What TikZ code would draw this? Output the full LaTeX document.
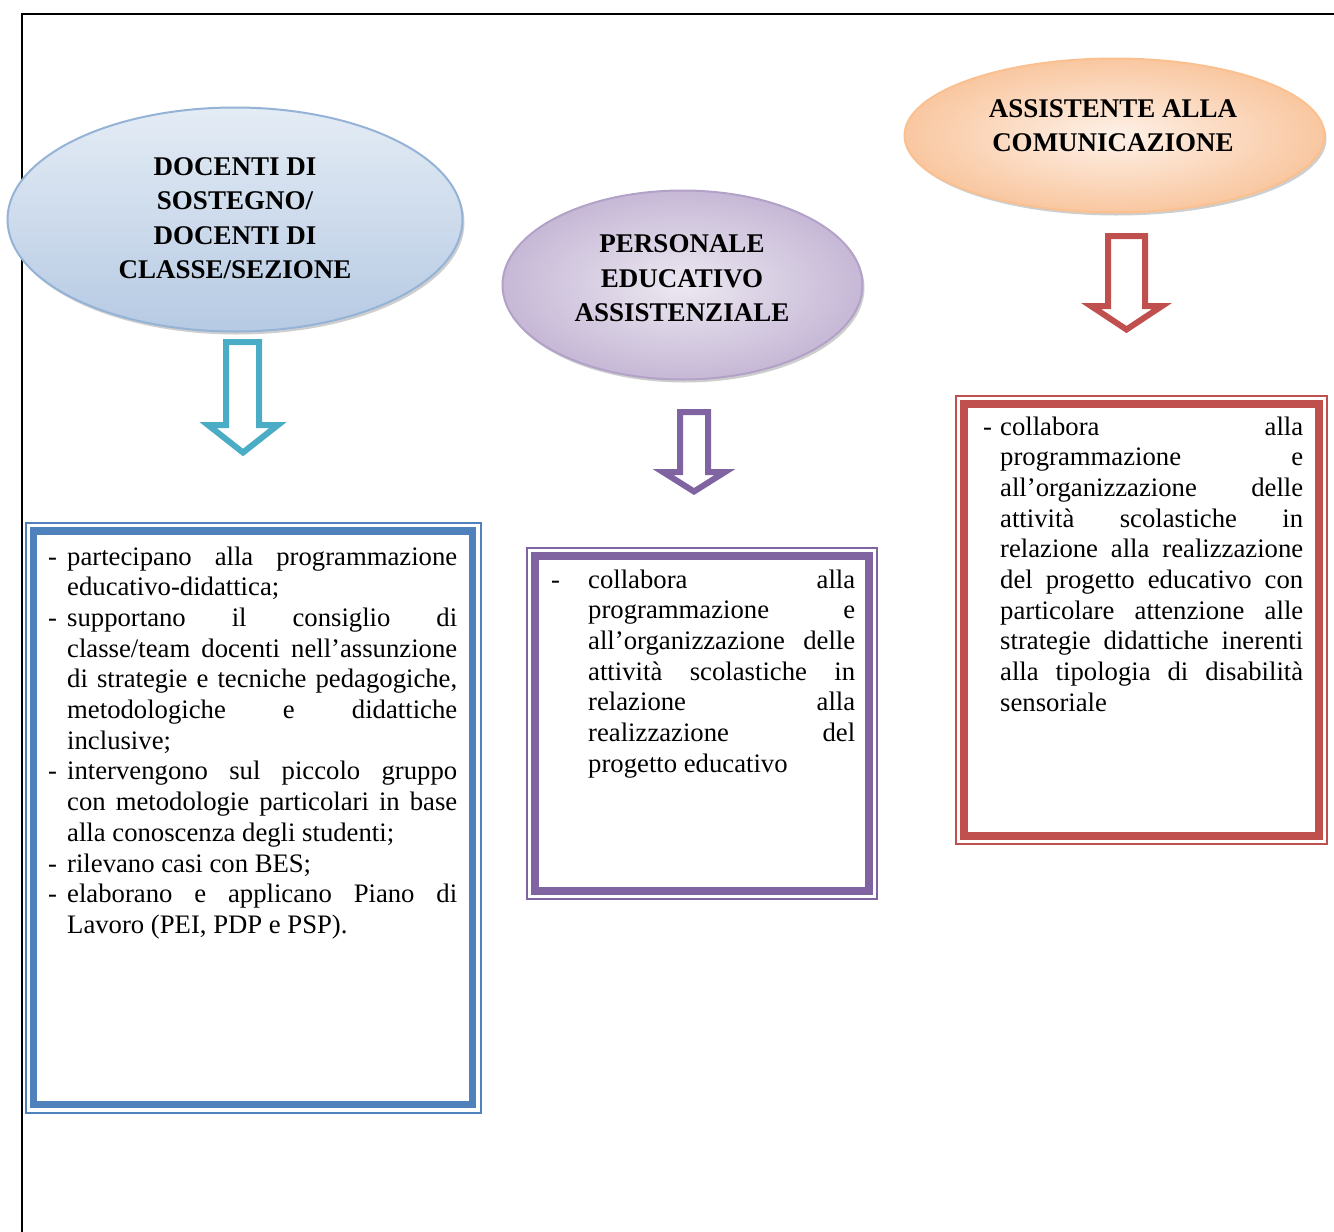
\documentclass[tikz,border=0pt]{standalone}
\usepackage{fontspec}
\setmainfont{Liberation Serif}
\usetikzlibrary{shapes.geometric,shadows}
\definecolor{bluebd}{HTML}{95B3D7}
\definecolor{bluetop}{HTML}{E4ECF5}
\definecolor{bluebot}{HTML}{B6CAE3}
\definecolor{purbd}{HTML}{B2A2C7}
\definecolor{purin}{HTML}{ECE8F1}
\definecolor{purout}{HTML}{C6B8D6}
\definecolor{orbd}{HTML}{FAC090}
\definecolor{orin}{HTML}{FEF1E8}
\definecolor{orout}{HTML}{F9C7A0}
\definecolor{arrblue}{HTML}{4BACC6}
\definecolor{arrpur}{HTML}{8064A2}
\definecolor{arrred}{HTML}{C0504D}
\definecolor{boxblue}{HTML}{4F81BD}
\newcommand\dashitem[2]{\par\noindent\hangindent=#1\hangafter=1\makebox[#1][l]{-}\ignorespaces#2\par}
\newcommand\bodysetup{\hyphenpenalty=10000\exhyphenpenalty=10000\tolerance=10000\hbadness=10000\parindent=0pt}
\begin{document}
\begin{tikzpicture}[x=1pt,y=-1pt,
  ell/.style={ellipse, draw, line width=2pt, inner sep=0pt,
    drop shadow={shadow xshift=2pt,shadow yshift=-3pt,opacity=0.35,fill=black!55}},
  head/.style={font=\fontsize{27}{34.5}\selectfont\bfseries, align=center, inner sep=0pt},
  thickbox/.style={draw, line width=7.5pt, inner sep=0pt, outer sep=0pt},
  thinbox/.style={line width=2pt},
  bodytext/.style={font=\fontsize{26.7}{30.7}\selectfont, align=justify, inner sep=0pt, anchor=base west},
  blockarrow/.style={line width=6pt, fill=white, line join=miter, miter limit=12}
]
\useasboundingbox (0,0) rectangle (1334,1232);
% page frame
\coordinate (fTR) at (1334,14);
\coordinate (fTL) at (22,14);
\coordinate (fBL) at (22,1232);
\draw[line width=2pt] (fTR) -- (fTL) -- (fBL);

% ellipses
\node[ell, draw=bluebd, top color=bluetop, bottom color=bluebot,
  minimum width=455pt, minimum height=224pt] (e1) at (235,219.5) {};
\node[head] (h1) at (235,218) {DOCENTI DI\\SOSTEGNO/\\DOCENTI DI\\CLASSE/SEZIONE};

\node[ell, draw=purbd, inner color=purin, outer color=purout,
  minimum width=360pt, minimum height=189pt] (e2) at (682.5,285) {};
\node[head] (h2) at (682,278.5) {PERSONALE\\EDUCATIVO\\ASSISTENZIALE};

\node[ell, draw=orbd, inner color=orin, outer color=orout,
  minimum width=420pt, minimum height=154pt] (e3) at (1114.5,135.5) {};
\node[head] (h3) at (1113,125.5) {ASSISTENTE ALLA\\COMUNICAZIONE};

% block arrows
\draw[blockarrow, draw=arrblue] (226,342) -- (259,342) -- (259,425) -- (278,425) -- (243,452.5) -- (208,425) -- (226,425) -- cycle;
\draw[blockarrow, draw=arrpur] (680,412) -- (708,412) -- (708,472) -- (725,472) -- (694,491.5) -- (663,472) -- (680,472) -- cycle;
\draw[blockarrow, draw=arrred] (1108,236) -- (1145,236) -- (1145,306) -- (1162,306) -- (1126.5,329.5) -- (1091,306) -- (1108,306) -- cycle;

% boxes
\node[thickbox, draw=boxblue, minimum width=439pt, minimum height=573.5pt] (b1) at (253,817.75) {};
\draw[thinbox, draw=boxblue] ([xshift=-8pt,yshift=8pt]b1.north west) rectangle ([xshift=8pt,yshift=-8pt]b1.south east);
\node[thickbox, draw=arrpur, minimum width=334pt, minimum height=335pt] (b2) at (702,723.5) {};
\draw[thinbox, draw=arrpur] ([xshift=-8pt,yshift=8pt]b2.north west) rectangle ([xshift=8pt,yshift=-8pt]b2.south east);
\node[thickbox, draw=arrred, minimum width=355pt, minimum height=432pt] (b3) at (1141.5,620) {};
\draw[thinbox, draw=arrred] ([xshift=-8pt,yshift=8pt]b3.north west) rectangle ([xshift=8pt,yshift=-8pt]b3.south east);

% texts
\node[bodytext, text width=409pt] (t1) at (48,534.3) {\bodysetup
\dashitem{19pt}{partecipano alla programmazione \linebreak educativo-didattica;}
\dashitem{19pt}{supportano il consiglio di \linebreak classe/team docenti nell’assunzione \linebreak di strategie e tecniche pedagogiche, \linebreak metodologiche e didattiche \linebreak inclusive;}
\dashitem{19pt}{intervengono sul piccolo gruppo \linebreak con metodologie particolari in base \linebreak alla conoscenza degli studenti;}
\dashitem{19pt}{rilevano casi con BES;}
\dashitem{19pt}{elaborano e applicano Piano di \linebreak Lavoro (PEI, PDP e PSP).}};

\node[bodytext, text width=304pt] (t2) at (551,557.3) {\bodysetup
\dashitem{37pt}{collabora alla \linebreak programmazione e \linebreak all’organizzazione delle \linebreak attività scolastiche in \linebreak relazione alla \linebreak realizzazione del \linebreak progetto educativo}};

\node[bodytext, text width=320pt] (t3) at (983,404.3) {\bodysetup
\dashitem{17pt}{collabora alla \linebreak programmazione e \linebreak all’organizzazione delle \linebreak attività scolastiche in \linebreak relazione alla realizzazione \linebreak del progetto educativo con \linebreak particolare attenzione alle \linebreak strategie didattiche inerenti \linebreak alla tipologia di disabilità \linebreak sensoriale}};
\end{tikzpicture}
\end{document}
